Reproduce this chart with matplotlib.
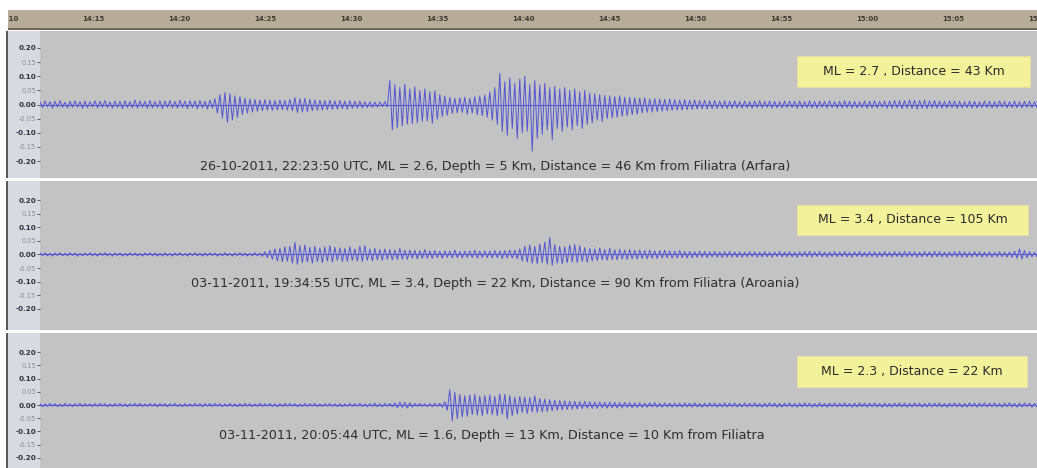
import numpy as np
import matplotlib
matplotlib.use("Agg")
import matplotlib.pyplot as plt
from matplotlib.patches import Rectangle

# ---------------- data ----------------
time_labels = ["14:10", "14:15", "14:20", "14:25", "14:30", "14:35", "14:40",
               "14:45", "14:50", "14:55", "15:00", "15:05", "15:10"]
time_minutes = [0, 5, 10, 15, 20, 25, 30, 35, 40, 45, 50, 55, 60]

y_major = [-0.20, -0.10, 0.00, 0.10, 0.20]
y_minor = [-0.15, -0.05, 0.05, 0.15]

trace1 = [
    0.009, -0.011, 0.012, -0.008, 0.010, -0.013, 0.011, -0.009, 0.014, -0.010, 0.008, -0.012, 0.011, -0.010, 0.013, -0.009, 0.010, -0.014, 0.012, -0.011,
    0.010, -0.009, 0.013, -0.012, 0.011, -0.010, 0.014, -0.011, 0.009, -0.013, 0.012, -0.010, 0.011, -0.015, 0.013, -0.011, 0.010, -0.012, 0.016, -0.013,
    0.012, -0.010, 0.011, -0.013, 0.014, -0.012, 0.010, -0.011, 0.013, -0.015, 0.012, -0.010, 0.014, -0.012, 0.011, -0.013, 0.015, -0.011, 0.012, -0.014,
    0.013, -0.011, 0.012, -0.015, 0.014, -0.012, 0.011, -0.016, 0.015, -0.013, 0.020, -0.030, 0.035, -0.048, 0.042, -0.063, 0.038, -0.055, 0.030, -0.045,
    0.028, -0.035, 0.022, -0.030, 0.020, -0.026, 0.018, -0.024, 0.016, -0.022, 0.017, -0.020, 0.015, -0.021, 0.014, -0.019, 0.016, -0.018, 0.015, -0.020,
    0.018, -0.022, 0.024, -0.028, 0.020, -0.026, 0.022, -0.025, 0.018, -0.022, 0.016, -0.020, 0.015, -0.019, 0.014, -0.018, 0.015, -0.017, 0.013, -0.016,
    0.014, -0.015, 0.012, -0.016, 0.013, -0.014, 0.011, -0.013, 0.012, -0.012, 0.010, -0.011, 0.009, -0.010, 0.008, -0.009, 0.009, -0.008, 0.010, -0.009,
    0.085, -0.090, 0.070, -0.082, 0.060, -0.075, 0.072, -0.070, 0.055, -0.068, 0.062, -0.065, 0.050, -0.060, 0.055, -0.058, 0.045, -0.066, 0.048, -0.052,
    0.035, -0.042, 0.030, -0.038, 0.025, -0.032, 0.022, -0.030, 0.024, -0.028, 0.026, -0.034, 0.022, -0.030, 0.028, -0.036, 0.030, -0.040, 0.034, -0.045,
    0.045, -0.055, 0.060, -0.070, 0.110, -0.095, 0.080, -0.110, 0.095, -0.085, 0.075, -0.120, 0.090, -0.100, 0.100, -0.095, 0.070, -0.165, 0.085, -0.120,
    0.070, -0.105, 0.075, -0.090, 0.060, -0.125, 0.065, -0.085, 0.055, -0.095, 0.060, -0.080, 0.050, -0.090, 0.055, -0.075, 0.045, -0.085, 0.050, -0.070,
    0.040, -0.065, 0.038, -0.055, 0.035, -0.060, 0.032, -0.050, 0.030, -0.048, 0.028, -0.045, 0.030, -0.042, 0.026, -0.040, 0.025, -0.036, 0.024, -0.034,
    0.022, -0.030, 0.024, -0.028, 0.020, -0.026, 0.021, -0.025, 0.019, -0.024, 0.018, -0.022, 0.019, -0.021, 0.017, -0.020, 0.016, -0.019, 0.017, -0.018,
    0.015, -0.017, 0.016, -0.016, 0.014, -0.015, 0.015, -0.016, 0.013, -0.015, 0.014, -0.014, 0.012, -0.013, 0.013, -0.014, 0.012, -0.013, 0.013, -0.012,
    0.011, -0.013, 0.012, -0.012, 0.010, -0.013, 0.012, -0.011, 0.013, -0.012, 0.011, -0.010, 0.012, -0.013, 0.011, -0.012, 0.010, -0.012, 0.012, -0.011,
    0.012, -0.011, 0.011, -0.013, 0.012, -0.012, 0.010, -0.011, 0.013, -0.012, 0.011, -0.013, 0.012, -0.010, 0.011, -0.012, 0.013, -0.011, 0.010, -0.012,
    0.011, -0.012, 0.013, -0.011, 0.012, -0.013, 0.011, -0.012, 0.010, -0.011, 0.012, -0.013, 0.011, -0.012, 0.013, -0.012, 0.011, -0.010, 0.012, -0.013,
    0.012, -0.013, 0.014, -0.012, 0.013, -0.015, 0.014, -0.013, 0.016, -0.014, 0.015, -0.016, 0.014, -0.013, 0.015, -0.014, 0.013, -0.012, 0.014, -0.013,
    0.012, -0.013, 0.011, -0.012, 0.013, -0.011, 0.012, -0.013, 0.011, -0.012, 0.010, -0.011, 0.012, -0.013, 0.011, -0.012, 0.010, -0.011, 0.012, -0.011,
    0.011, -0.012, 0.010, -0.011, 0.012, -0.010, 0.011, -0.012, 0.010, -0.011, 0.012, -0.011, 0.010, -0.012, 0.011, -0.010, 0.012, -0.011, 0.010, -0.011,
]

trace2 = [
    0.005, -0.004, 0.006, -0.005, 0.004, -0.006, 0.005, -0.004, 0.006, -0.005, 0.004, -0.005, 0.006, -0.004, 0.005, -0.006, 0.004, -0.005, 0.005, -0.004,
    0.006, -0.005, 0.004, -0.006, 0.005, -0.004, 0.006, -0.005, 0.004, -0.006, 0.005, -0.004, 0.005, -0.006, 0.004, -0.005, 0.006, -0.004, 0.005, -0.005,
    0.004, -0.006, 0.005, -0.004, 0.006, -0.005, 0.005, -0.006, 0.004, -0.005, 0.006, -0.005, 0.004, -0.006, 0.005, -0.004, 0.006, -0.005, 0.004, -0.006,
    0.005, -0.004, 0.006, -0.005, 0.004, -0.006, 0.005, -0.005, 0.006, -0.004, 0.005, -0.006, 0.004, -0.005, 0.006, -0.005, 0.004, -0.006, 0.005, -0.004,
    0.006, -0.005, 0.005, -0.006, 0.004, -0.005, 0.006, -0.005, 0.005, -0.007, 0.010, -0.012, 0.015, -0.018, 0.020, -0.024, 0.022, -0.026, 0.028, -0.025,
    0.030, -0.032, 0.045, -0.036, 0.032, -0.030, 0.035, -0.028, 0.026, -0.032, 0.030, -0.026, 0.024, -0.030, 0.028, -0.024, 0.032, -0.028, 0.026, -0.022,
    0.024, -0.026, 0.022, -0.025, 0.028, -0.022, 0.020, -0.024, 0.030, -0.026, 0.032, -0.022, 0.020, -0.024, 0.022, -0.020, 0.018, -0.022, 0.020, -0.018,
    0.018, -0.020, 0.016, -0.018, 0.022, -0.017, 0.015, -0.018, 0.016, -0.014, 0.015, -0.016, 0.014, -0.015, 0.018, -0.014, 0.013, -0.015, 0.014, -0.012,
    0.012, -0.014, 0.013, -0.011, 0.012, -0.013, 0.016, -0.012, 0.011, -0.013, 0.012, -0.011, 0.013, -0.012, 0.015, -0.013, 0.012, -0.011, 0.013, -0.012,
    0.012, -0.013, 0.014, -0.012, 0.013, -0.015, 0.014, -0.013, 0.016, -0.014, 0.015, -0.016, 0.020, -0.024, 0.030, -0.028, 0.035, -0.032, 0.030, -0.034,
    0.038, -0.030, 0.045, -0.036, 0.062, -0.040, 0.036, -0.032, 0.030, -0.034, 0.028, -0.030, 0.034, -0.028, 0.036, -0.030, 0.032, -0.026, 0.025, -0.028,
    0.022, -0.024, 0.020, -0.022, 0.024, -0.020, 0.018, -0.021, 0.022, -0.019, 0.017, -0.020, 0.019, -0.017, 0.016, -0.018, 0.018, -0.016, 0.015, -0.017,
    0.016, -0.015, 0.014, -0.016, 0.015, -0.014, 0.013, -0.015, 0.014, -0.013, 0.015, -0.012, 0.013, -0.014, 0.012, -0.013, 0.014, -0.012, 0.011, -0.013,
    0.011, -0.012, 0.010, -0.011, 0.012, -0.010, 0.011, -0.012, 0.010, -0.009, 0.011, -0.010, 0.009, -0.011, 0.010, -0.009, 0.011, -0.010, 0.009, -0.010,
    0.009, -0.010, 0.008, -0.009, 0.010, -0.008, 0.009, -0.010, 0.008, -0.009, 0.010, -0.009, 0.008, -0.010, 0.009, -0.008, 0.010, -0.009, 0.008, -0.009,
    0.010, -0.009, 0.008, -0.010, 0.009, -0.008, 0.010, -0.009, 0.011, -0.010, 0.009, -0.008, 0.010, -0.009, 0.008, -0.010, 0.009, -0.008, 0.010, -0.009,
    0.009, -0.008, 0.010, -0.009, 0.008, -0.010, 0.009, -0.008, 0.010, -0.009, 0.008, -0.009, 0.010, -0.008, 0.009, -0.010, 0.008, -0.009, 0.010, -0.008,
    0.008, -0.009, 0.010, -0.008, 0.009, -0.010, 0.011, -0.009, 0.010, -0.008, 0.009, -0.010, 0.008, -0.009, 0.010, -0.008, 0.009, -0.010, 0.011, -0.009,
    0.010, -0.009, 0.008, -0.010, 0.009, -0.008, 0.010, -0.009, 0.011, -0.010, 0.009, -0.010, 0.008, -0.009, 0.010, -0.008, 0.009, -0.010, 0.008, -0.009,
    0.009, -0.010, 0.008, -0.009, 0.010, -0.009, 0.008, -0.010, 0.009, -0.011, 0.012, -0.014, 0.020, -0.017, 0.014, -0.012, 0.010, -0.009, 0.008, -0.009,
]

trace3 = [
    0.005, -0.006, 0.004, -0.005, 0.006, -0.004, 0.005, -0.006, 0.004, -0.005, 0.006, -0.005, 0.004, -0.006, 0.005, -0.004, 0.006, -0.005, 0.005, -0.004,
    0.004, -0.006, 0.005, -0.005, 0.006, -0.004, 0.005, -0.006, 0.004, -0.005, 0.005, -0.004, 0.006, -0.005, 0.004, -0.006, 0.005, -0.004, 0.006, -0.005,
    0.006, -0.005, 0.004, -0.005, 0.006, -0.004, 0.005, -0.006, 0.005, -0.004, 0.005, -0.006, 0.005, -0.004, 0.006, -0.005, 0.004, -0.006, 0.005, -0.005,
    0.004, -0.005, 0.006, -0.004, 0.005, -0.006, 0.005, -0.004, 0.006, -0.005, 0.006, -0.004, 0.005, -0.006, 0.004, -0.005, 0.006, -0.005, 0.004, -0.006,
    0.005, -0.005, 0.006, -0.004, 0.005, -0.006, 0.004, -0.005, 0.006, -0.005, 0.005, -0.004, 0.006, -0.005, 0.004, -0.006, 0.005, -0.005, 0.006, -0.004,
    0.006, -0.004, 0.005, -0.006, 0.004, -0.005, 0.006, -0.005, 0.005, -0.004, 0.006, -0.006, 0.004, -0.005, 0.005, -0.004, 0.006, -0.005, 0.004, -0.006,
    0.005, -0.006, 0.004, -0.005, 0.006, -0.005, 0.005, -0.004, 0.006, -0.005, 0.004, -0.006, 0.005, -0.005, 0.007, -0.006, 0.005, -0.007, 0.006, -0.005,
    0.006, -0.007, 0.008, -0.010, 0.011, -0.009, 0.010, -0.011, 0.009, -0.008, 0.006, -0.005, 0.006, -0.005, 0.005, -0.006, 0.005, -0.006, 0.006, -0.005,
    0.006, -0.008, 0.012, -0.020, 0.058, -0.060, 0.048, -0.052, 0.040, -0.045, 0.035, -0.042, 0.038, -0.036, 0.040, -0.038, 0.033, -0.040, 0.036, -0.034,
    0.038, -0.036, 0.032, -0.040, 0.042, -0.035, 0.040, -0.052, 0.036, -0.040, 0.030, -0.034, 0.032, -0.028, 0.030, -0.032, 0.028, -0.026, 0.035, -0.028,
    0.025, -0.026, 0.022, -0.024, 0.020, -0.022, 0.018, -0.020, 0.017, -0.018, 0.016, -0.017, 0.015, -0.016, 0.014, -0.015, 0.013, -0.014, 0.014, -0.012,
    0.012, -0.013, 0.011, -0.012, 0.012, -0.011, 0.010, -0.012, 0.011, -0.010, 0.010, -0.011, 0.009, -0.010, 0.010, -0.009, 0.009, -0.010, 0.008, -0.009,
    0.008, -0.009, 0.007, -0.008, 0.008, -0.007, 0.009, -0.008, 0.007, -0.008, 0.008, -0.007, 0.007, -0.008, 0.008, -0.007, 0.007, -0.008, 0.008, -0.007,
    0.007, -0.008, 0.008, -0.007, 0.006, -0.008, 0.007, -0.007, 0.008, -0.006, 0.007, -0.008, 0.006, -0.007, 0.008, -0.007, 0.007, -0.006, 0.008, -0.007,
    0.006, -0.007, 0.008, -0.007, 0.007, -0.006, 0.008, -0.007, 0.006, -0.008, 0.007, -0.007, 0.008, -0.006, 0.007, -0.008, 0.006, -0.007, 0.007, -0.006,
    0.008, -0.007, 0.006, -0.008, 0.007, -0.007, 0.008, -0.006, 0.007, -0.008, 0.006, -0.007, 0.008, -0.007, 0.006, -0.008, 0.007, -0.006, 0.008, -0.007,
    0.007, -0.006, 0.008, -0.007, 0.006, -0.008, 0.007, -0.007, 0.008, -0.006, 0.007, -0.008, 0.007, -0.006, 0.008, -0.007, 0.006, -0.008, 0.007, -0.007,
    0.006, -0.008, 0.007, -0.006, 0.008, -0.007, 0.007, -0.008, 0.006, -0.007, 0.008, -0.006, 0.007, -0.008, 0.006, -0.007, 0.008, -0.007, 0.007, -0.006,
    0.008, -0.007, 0.006, -0.008, 0.007, -0.006, 0.008, -0.007, 0.007, -0.008, 0.006, -0.007, 0.008, -0.006, 0.007, -0.008, 0.007, -0.006, 0.008, -0.007,
    0.007, -0.006, 0.008, -0.007, 0.006, -0.008, 0.007, -0.006, 0.008, -0.007, 0.006, -0.008, 0.007, -0.007, 0.008, -0.006, 0.007, -0.008, 0.006, -0.007,
]

captions = [
    "26-10-2011, 22:23:50 UTC, ML = 2.6, Depth = 5 Km, Distance = 46 Km from Filiatra (Arfara)",
    "03-11-2011, 19:34:55 UTC, ML = 3.4, Depth = 22 Km, Distance = 90 Km from Filiatra (Aroania)",
    "03-11-2011, 20:05:44 UTC, ML = 1.6, Depth = 13 Km, Distance = 10 Km from Filiatra",
]
box_texts = [
    "ML = 2.7 , Distance = 43 Km",
    "ML = 3.4 , Distance = 105 Km",
    "ML = 2.3 , Distance = 22 Km",
]
traces = [trace1, trace2, trace3]

# ---------------- layout ----------------
W, H = 1037, 468
fig = plt.figure(figsize=(W / 100, H / 100), dpi=100, facecolor="white")

def fx(x):
    return x / W

def fy(y):
    return 1 - y / H

px_per_min = 17.2
t_at_px0 = -7.5 / px_per_min            # minutes after 14:10 at pixel x = 0
t_right = t_at_px0 + W / px_per_min

# time bar along the top (starts at x = 8 px)
bar_x0 = 8
ax_t = fig.add_axes([fx(bar_x0), fy(30), 1 - fx(bar_x0), 20 / H])
ax_t.set_xlim(t_at_px0 + bar_x0 / px_per_min, t_right)
ax_t.set_ylim(0, 1)
ax_t.axis("off")
ax_t.add_patch(Rectangle((0, 0), 1, 1, transform=ax_t.transAxes,
                         color="#b7ac97", zorder=0))
ax_t.axhline(0.07, color="#6e6453", lw=2.0)
for t, lab in zip(time_minutes, time_labels):
    ax_t.text(t, 0.55, lab, ha="center", va="center", fontsize=5.0,
              fontweight="bold", color="#3e3a33", clip_on=True)

# panels: (top px, bottom px, ymin, ymax)
panels = [
    (31, 178, -0.26, 0.26),
    (181, 330, -0.278, 0.27),
    (333, 468, -0.238, 0.272),
]
caption_pos = [(200, 166), (191, 283), (219, 436)]
box_pos = [(797, 56, 1030, 87), (797, 205, 1028, 235), (797, 356, 1027, 387)]

x_start_px = 40
t_start = t_at_px0 + x_start_px / px_per_min

for i, (top, bot, ymin, ymax) in enumerate(panels):
    # left label strip (behind the axes)
    fig.patches.append(Rectangle((fx(8), fy(bot)), fx(32), (bot - top) / H,
                                 transform=fig.transFigure, facecolor="#d7dadf",
                                 edgecolor="none", zorder=-2))
    fig.patches.append(Rectangle((fx(5.5), fy(bot)), fx(2), (bot - top) / H,
                                 transform=fig.transFigure, facecolor="#5a5a5a",
                                 edgecolor="none", zorder=-2))
    ax = fig.add_axes([fx(x_start_px), fy(bot), 1 - fx(x_start_px), (bot - top) / H])
    ax.set_facecolor("#c3c3c3")
    vals = np.array(traces[i])
    t = np.linspace(t_start, t_right, len(vals))
    ax.axhline(0, color="#5c5cd4", lw=0.8)
    ax.plot(t, vals, color="#5454d4", lw=0.7)
    ax.set_xlim(t_start, t_right)
    ax.set_ylim(ymin, ymax)
    for s in ax.spines.values():
        s.set_visible(False)
    ax.set_xticks([])
    ax.set_yticks(y_major)
    ax.set_yticklabels([f"{v:.2f}" for v in y_major], fontsize=5.2,
                       fontweight="bold", color="#2e3040")
    ax.set_yticks(y_minor, minor=True)
    ax.set_yticklabels([f"{v:.2f}" for v in y_minor], minor=True, fontsize=4.8,
                       color="#8a8f99")
    ax.tick_params(axis="y", which="both", length=2, width=0.6, pad=0.8,
                   color="#444444")

    # caption
    cx, cy = caption_pos[i]
    fig.text(fx(cx), fy(cy), captions[i], ha="left", va="center",
             fontsize=9.2, color="#2e2e2e")
    # yellow box
    x0, y0, x1, y1 = box_pos[i]
    fig.patches.append(Rectangle((fx(x0), fy(y1)), fx(x1 - x0), (y1 - y0) / H,
                                 transform=fig.transFigure, facecolor="#f4f19b",
                                 edgecolor="#e6e2a0", lw=0.5, zorder=3))
    fig.text(fx((x0 + x1) / 2), fy((y0 + y1) / 2), box_texts[i], ha="center",
             va="center", fontsize=9.0, color="#2a2a2a", zorder=4)

fig.savefig("out.png", dpi=100, facecolor="white")
